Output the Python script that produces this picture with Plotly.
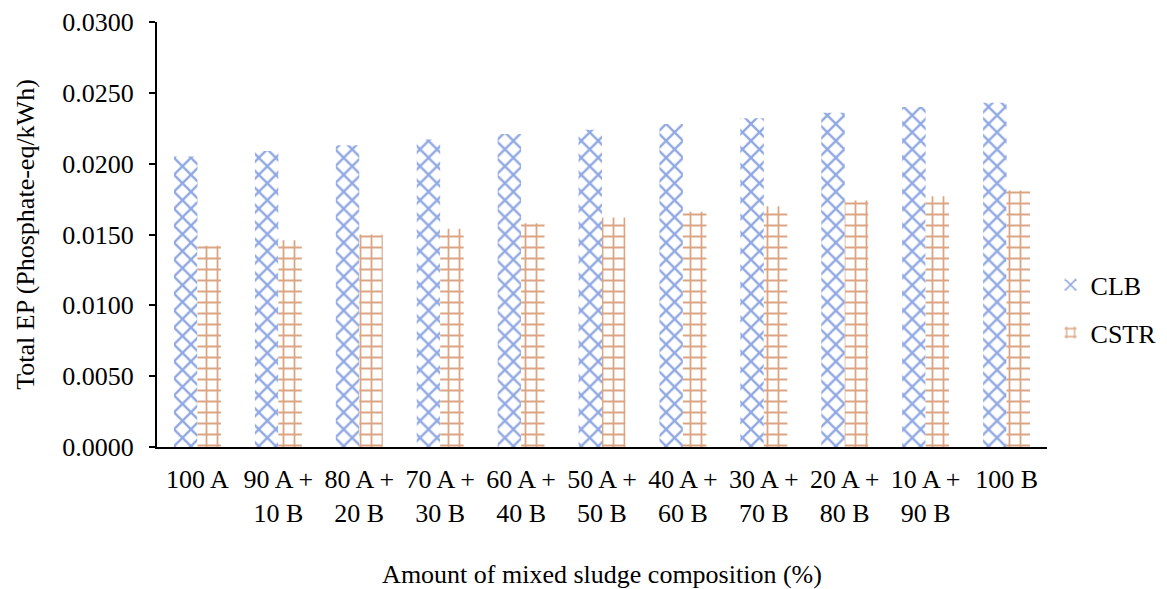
import plotly.graph_objects as go

categories = ["100 A", "90 A +<br>10 B", "80 A +<br>20 B", "70 A +<br>30 B", "60 A +<br>40 B",
              "50 A +<br>50 B", "40 A +<br>60 B", "30 A +<br>70 B", "20 A +<br>80 B",
              "10 A +<br>90 B", "100 B"]
clb = [0.0205, 0.0209, 0.0213, 0.0217, 0.0221, 0.0224, 0.0228, 0.0232, 0.0236, 0.0240, 0.0243]
cstr = [0.0142, 0.0146, 0.0150, 0.0154, 0.0158, 0.0162, 0.0166, 0.0170, 0.0174, 0.0177, 0.0181]
y_ticks = [0.0, 0.005, 0.010, 0.015, 0.020, 0.025, 0.030]

BLUE = "#1F50C8"
ORANGE = "#B84A05"
FONT = "Liberation Serif"
FS = 26

fig = go.Figure()
fig.add_trace(go.Bar(
    x=categories, y=clb, name="CLB", legendgroup="a",
    marker=dict(color="white", line=dict(width=0),
                pattern=dict(shape="x", fgcolor=BLUE, bgcolor="white", size=12, solidity=0.35)),
))
fig.add_trace(go.Bar(
    x=categories, y=cstr, name="CSTR", legendgroup="b",
    marker=dict(color="white", line=dict(width=0),
                pattern=dict(shape="+", fgcolor=ORANGE, bgcolor="white", size=11, solidity=0.3)),
))

fig.update_layout(
    width=1159, height=581,
    margin=dict(l=149, r=120, t=14, b=142, autoexpand=False),
    plot_bgcolor="white", paper_bgcolor="white",
    barmode="group", bargap=0.42, bargroupgap=0,
    font=dict(family=FONT, size=FS, color="black"),
    legend=dict(x=1.004, y=0.325, xanchor="left", yanchor="middle",
                font=dict(family=FONT, size=FS), tracegroupgap=11,
                itemwidth=30),
    xaxis=dict(
        showline=True, linecolor="black", linewidth=2, ticks="", showgrid=False,
        automargin=False, ticklabelstandoff=8,
        tickfont=dict(family=FONT, size=FS),
        title=dict(text="Amount of mixed sludge composition (%)", font=dict(family=FONT, size=FS), standoff=48),
    ),
    yaxis=dict(
        range=[0, 0.030], tickvals=y_ticks, tickformat=".4f",
        showline=True, linecolor="black", linewidth=2, ticks="outside", ticklen=6,
        tickcolor="black", tickwidth=2, showgrid=False, zeroline=False,
        automargin=False, ticklabelstandoff=10,
        tickfont=dict(family=FONT, size=FS),
        title=dict(text="Total EP (Phosphate-eq/kWh)", font=dict(family=FONT, size=FS), standoff=20),
    ),
)

fig.write_html("out.html")
